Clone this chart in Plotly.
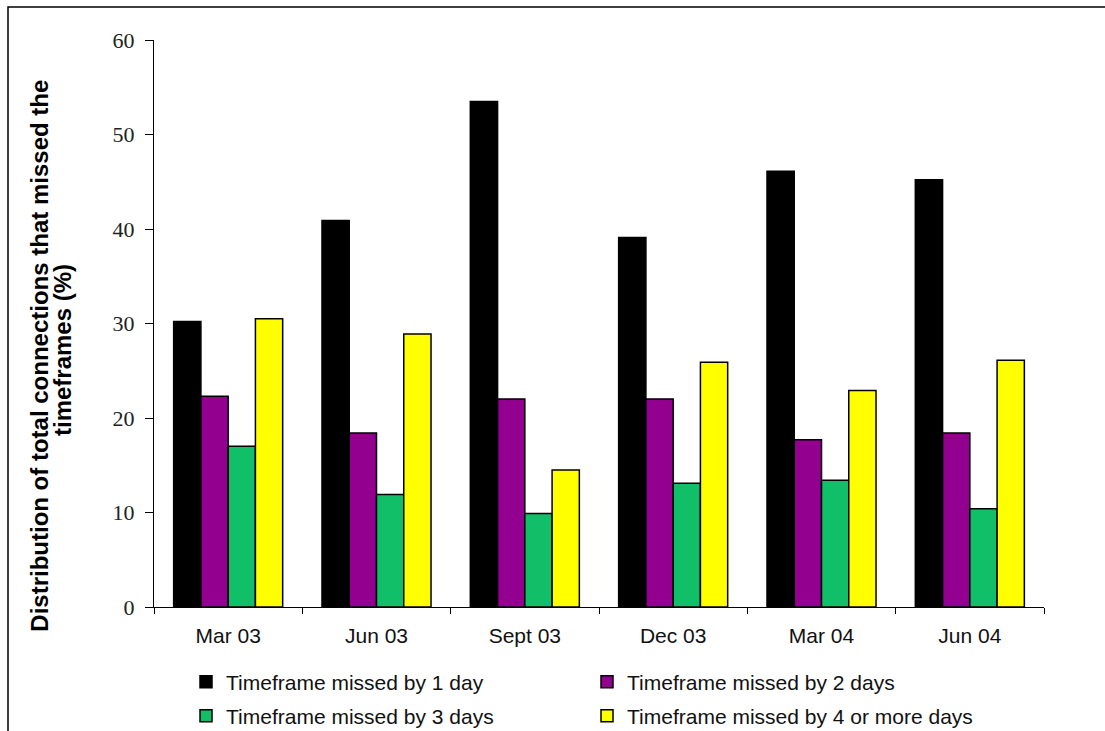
import plotly.graph_objects as go

# Quarterly reporting periods
categories = ["Mar 03", "Jun 03", "Sept 03", "Dec 03", "Mar 04", "Jun 04"]

# Share of connections (%) that missed the timeframe, by days missed
missed_1_day = [30.2, 40.9, 53.5, 39.1, 46.1, 45.2]
missed_2_days = [22.3, 18.4, 22.0, 22.0, 17.7, 18.4]
missed_3_days = [17.0, 11.9, 9.9, 13.1, 13.4, 10.4]
missed_4_plus_days = [30.5, 28.9, 14.5, 25.9, 22.9, 26.1]

series_names = [
    "Timeframe missed by 1 day",
    "Timeframe missed by 2 days",
    "Timeframe missed by 3 days",
    "Timeframe missed by 4 or more days",
]
y_ticks = [0, 10, 20, 30, 40, 50, 60]

colors = ["#000000", "#930090", "#12BF69", "#FFFF00"]
legends = ["legend", "legend", "legend2", "legend2"]

W, H = 1105, 731
L, R, T, B = 154, 61, 40, 124
PW, PH = W - L - R, H - T - B


def px_x(px):
    return (px - L) / PW


def px_y(py):
    return (H - B - py) / PH


fig = go.Figure()
for name, vals, col, lg in zip(
    series_names,
    [missed_1_day, missed_2_days, missed_3_days, missed_4_plus_days],
    colors,
    legends,
):
    fig.add_trace(
        go.Bar(
            x=categories,
            y=vals,
            name=name,
            legend=lg,
            marker=dict(color=col, line=dict(color="#000000", width=1.5)),
        )
    )

legend_common = dict(
    orientation="h",
    xanchor="left",
    yanchor="middle",
    entrywidth=356,
    entrywidthmode="pixels",
    font=dict(family="Liberation Sans", size=21, color="#111111"),
    bgcolor="rgba(0,0,0,0)",
    itemclick=False,
    itemdoubleclick=False,
)

fig.update_layout(
    width=W,
    height=H,
    margin=dict(l=L, r=R, t=T, b=B, autoexpand=False),
    paper_bgcolor="#FFFFFF",
    plot_bgcolor="#FFFFFF",
    barmode="group",
    bargap=0.265,
    bargroupgap=0,
    showlegend=True,
    legend=dict(x=px_x(186), y=px_y(682), **legend_common),
    legend2=dict(x=px_x(186), y=px_y(716), **legend_common),
    xaxis=dict(
        type="category",
        showline=True,
        linecolor="#000000",
        linewidth=1,
        ticks="outside",
        tickson="boundaries",
        ticklen=6,
        tickcolor="#000000",
        tickwidth=1,
        showgrid=False,
        tickfont=dict(family="Liberation Sans", size=21, color="#111111"),
        ticklabelstandoff=10,
    ),
    yaxis=dict(
        range=[0, 60],
        tickvals=y_ticks,
        showline=True,
        linecolor="#000000",
        linewidth=1,
        ticks="outside",
        ticklen=8,
        tickcolor="#000000",
        tickwidth=1,
        showgrid=False,
        zeroline=False,
        tickfont=dict(family="Liberation Serif", size=22, color="#222222"),
        ticklabelstandoff=6,
    ),
)

# Two-line rotated axis title
fig.add_annotation(
    text="<b>Distribution of total connections that missed the</b>",
    xref="paper", yref="paper",
    x=px_x(38.7), y=px_y(356),
    xanchor="center", yanchor="middle",
    textangle=-90, showarrow=False,
    font=dict(family="Liberation Sans", size=24, color="#000000"),
)
fig.add_annotation(
    text="<b>timeframes (%)</b>",
    xref="paper", yref="paper",
    x=px_x(62), y=px_y(350),
    xanchor="center", yanchor="middle",
    textangle=-90, showarrow=False,
    font=dict(family="Liberation Sans", size=24, color="#000000"),
)

# Outer frame (runs off the right and bottom edges)
fig.add_shape(
    type="rect",
    xref="paper", yref="paper",
    x0=px_x(8), x1=px_x(W + 20),
    y0=px_y(H + 20), y1=px_y(7),
    line=dict(color="#000000", width=1.5),
    fillcolor="rgba(0,0,0,0)",
    layer="above",
)

fig.write_html("out.html")
